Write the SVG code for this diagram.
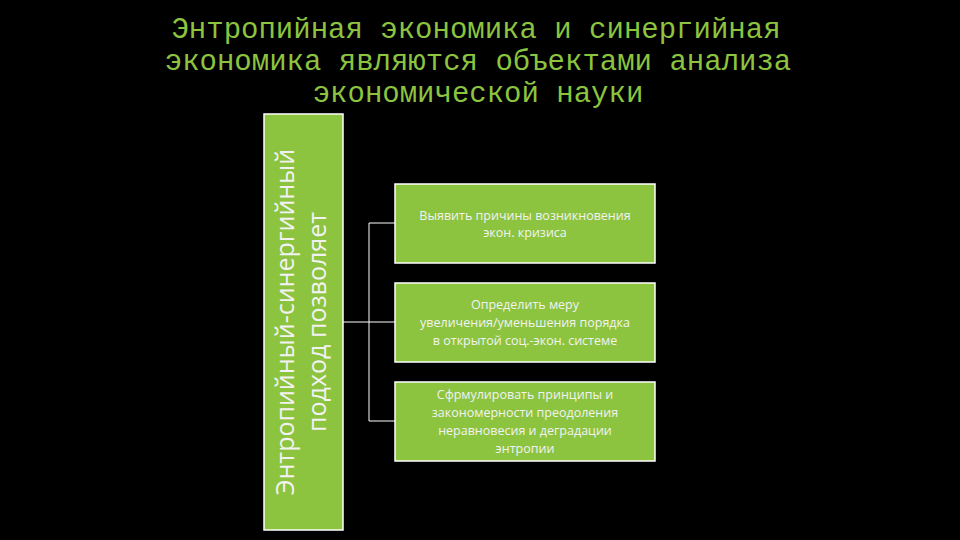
<svg xmlns="http://www.w3.org/2000/svg" width="960" height="540" viewBox="0 0 960 540">
<style>
.box{fill:#8cc43f;stroke:#fff;stroke-width:1.5}
.t{font-family:"Open Sans","DejaVu Sans",sans-serif;font-size:12.5px;fill:#f2f2f2;text-anchor:middle}
.c{fill:none;stroke:#fff;stroke-width:1}
</style>
<rect width="960" height="540" fill="#000"/>
<g id="title" font-family="Liberation Mono,monospace" font-size="29" fill="#8cc43f" text-anchor="middle">
<text x="476" y="38">Энтропийная экономика и синергийная</text>
<text x="478" y="70">экономика являются объектами анализа</text>
<text x="478" y="102">экономической науки</text>
</g>
<g id="connectors">
<path class="c" d="M343 322H395M369 223V421M369 223H395M369 421H395"/>
</g>
<g id="root">
<rect class="box" x="264" y="114" width="79" height="416"/>
<g transform="translate(303,322) rotate(-90)" font-family="Open Sans,DejaVu Sans,sans-serif" font-size="25" fill="#f2f2f2" text-anchor="middle">
<text x="0" y="-9">Энтропийный-синергийный</text>
<text x="0" y="23">подход позволяет</text>
</g>
</g>
<g id="n1"><rect class="box" x="395" y="184" width="260" height="79"/>
<text class="t" x="525" y="220">Выявить причины возникновения</text>
<text class="t" x="525" y="237">экон. кризиса</text></g>
<g id="n2"><rect class="box" x="395" y="283" width="260" height="79"/>
<text class="t" x="525" y="309">Определить меру</text>
<text class="t" x="525" y="327">увеличения/уменьшения порядка</text>
<text class="t" x="525" y="345">в открытой соц.-экон. системе</text></g>
<g id="n3"><rect class="box" x="395" y="382" width="260" height="79"/>
<text class="t" x="525" y="399">Сфрмулировать принципы и</text>
<text class="t" x="525" y="417">закономерности преодоления</text>
<text class="t" x="525" y="435">неравновесия и деградации</text>
<text class="t" x="525" y="453">энтропии</text></g>
</svg>
